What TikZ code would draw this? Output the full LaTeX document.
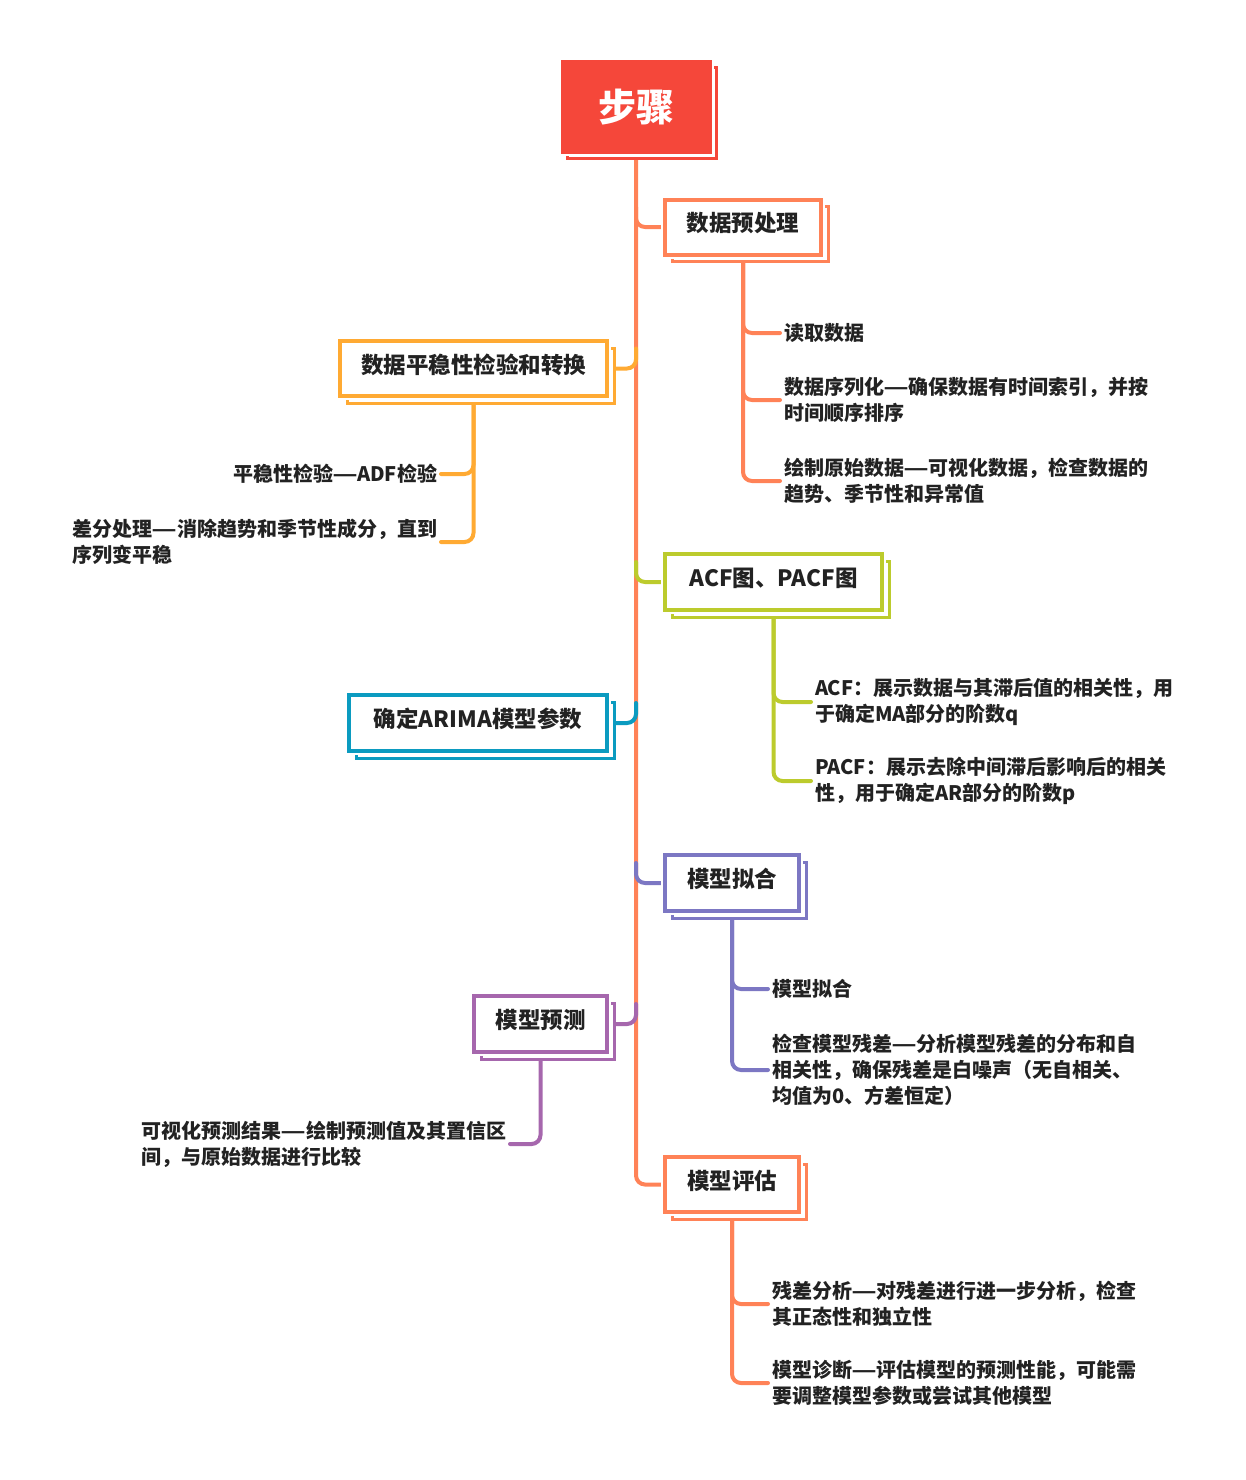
\documentclass[tikz,border=0pt]{standalone}
\usepackage{fontspec}
\setmainfont{Noto Sans CJK SC}
\usepackage{graphicx}
\usetikzlibrary{calc}
\definecolor{cred}{HTML}{F5473A}
\definecolor{ccoral}{HTML}{FF8257}
\definecolor{corange}{HTML}{FFAA33}
\definecolor{clime}{HTML}{BCCB2D}
\definecolor{cteal}{HTML}{0B9BC0}
\definecolor{cslate}{HTML}{7C77C3}
\definecolor{cpurple}{HTML}{A667AD}
\definecolor{ctext}{HTML}{222222}
\newcommand{\dd}{\scalebox{0.7}[1]{——}}
\pgfdeclarelayer{connlayer}
\pgfdeclarelayer{shadlayer}
\pgfsetlayers{connlayer,shadlayer,main}
\begin{document}
\begin{tikzpicture}[x=1pt,y=-1pt,
  boxst/.style={draw=#1, line width=4pt, fill=white, inner sep=0pt, outer sep=0pt,
    preaction={draw=white, line width=8pt}, text=ctext,
    text height=18pt, text depth=9pt,
    font=\fontsize{22.5}{27}\selectfont\bfseries},
  shad/.style={draw=#1, line width=3pt, fill=white},
  conn/.style={draw=#1, line width=4pt, rounded corners=9pt, line cap=round},
  leafR/.style={anchor=west, align=left, inner xsep=4pt, inner ysep=0pt, outer sep=0pt,
    text=ctext, font=\fontsize{20}{26}\selectfont\bfseries},
  leafL/.style={anchor=east, align=left, inner xsep=4pt, inner ysep=0pt, outer sep=0pt,
    text=ctext, font=\fontsize{20}{26}\selectfont\bfseries}]
\useasboundingbox (0,0) rectangle (1246,1480);

% root
\node[draw=cred, fill=cred, line width=2pt, minimum width=149pt, minimum height=91pt,
  inner sep=0pt, outer sep=0pt, preaction={draw=white, line width=6pt},
  text=white, font=\fontsize{38}{44}\selectfont\bfseries] (root) at (636,107) {步骤};

% main boxes
\node[boxst=ccoral, minimum width=156pt, minimum height=55pt] (b1) at (743,227) {数据预处理};
\node[boxst=corange, minimum width=267pt, minimum height=55pt] (b2) at (473.5,368.5) {数据平稳性检验和转换};
\node[boxst=clime, minimum width=217pt, minimum height=56pt] (b3) at (773.5,582) {ACF图、PACF图};
\node[boxst=cteal, minimum width=258pt, minimum height=56pt] (b4) at (478,723) {确定ARIMA模型参数};
\node[boxst=cslate, minimum width=134pt, minimum height=56pt] (b5) at (732,883) {模型拟合};
\node[boxst=cpurple, minimum width=133pt, minimum height=56pt] (b6) at (540.5,1024) {模型预测};
\node[boxst=ccoral, minimum width=134pt, minimum height=55pt] (b7) at (732,1184.5) {模型评估};

% leaves
\node[leafR] (c11) at (780,333) {读取数据};
\node[leafR] (c12) at (780,400) {数据序列化\dd 确保数据有时间索引，并按\\时间顺序排序};
\node[leafR] (c13) at (780,481) {绘制原始数据\dd 可视化数据，检查数据的\\趋势、季节性和异常值};
\node[leafL] (c21) at (441,474) {平稳性检验\dd ADF检验};
\node[leafL] (c22) at (441,542) {差分处理\dd 消除趋势和季节性成分，直到\\序列变平稳};
\node[leafR] (c31) at (811,702) {ACF：展示数据与其滞后值的相关性，用\\于确定MA部分的阶数q};
\node[leafR] (c32) at (811,781) {PACF：展示去除中间滞后影响后的相关\\性，用于确定AR部分的阶数p};
\node[leafR] (c51) at (768,989) {模型拟合};
\node[leafR] (c52) at (768,1070) {检查模型残差\dd 分析模型残差的分布和自\\相关性，确保残差是白噪声（无自相关、\\均值为0、方差恒定）};
\node[leafL] (c61) at (510,1144) {可视化预测结果\dd 绘制预测值及其置信区\\间，与原始数据进行比较};
\node[leafR] (c71) at (768,1304) {残差分析\dd 对残差进行进一步分析，检查\\其正态性和独立性};
\node[leafR] (c72) at (768,1383) {模型诊断\dd 评估模型的预测性能，可能需\\要调整模型参数或尝试其他模型};

% shadows
\begin{pgfonlayer}{shadlayer}
\draw[shad=cred] ([shift={(6,6)}]root.north west) rectangle ([shift={(6,6)}]root.south east);
\foreach \b/\c in {b1/ccoral,b2/corange,b3/clime,b4/cteal,b5/cslate,b6/cpurple,b7/ccoral}{
  \draw[shad=\c] ([shift={(7,7)}]\b.north west) rectangle ([shift={(7,7)}]\b.south east);
}
\end{pgfonlayer}

% connectors
\begin{pgfonlayer}{connlayer}
\draw[conn=ccoral] (root.south) |- (b7.west);
\draw[conn=ccoral] ($(root.south |- b1.west)+(0,-20)$) |- (b1.west);
\draw[conn=corange] ($(root.south |- b2.east)+(0,-20)$) |- (b2.east);
\draw[conn=clime] ($(root.south |- b3.west)+(0,-20)$) |- (b3.west);
\draw[conn=cteal] ($(root.south |- b4.east)+(0,-20)$) |- (b4.east);
\draw[conn=cslate] ($(root.south |- b5.west)+(0,-20)$) |- (b5.west);
\draw[conn=cpurple] ($(root.south |- b6.east)+(0,-20)$) |- (b6.east);

\draw[conn=ccoral] (b1.south) |- (c11.west);
\draw[conn=ccoral] (b1.south) |- (c12.west);
\draw[conn=ccoral] (b1.south) |- (c13.west);
\draw[conn=corange] (b2.south) |- (c21.east);
\draw[conn=corange] (b2.south) |- (c22.east);
\draw[conn=clime] (b3.south) |- (c31.west);
\draw[conn=clime] (b3.south) |- (c32.west);
\draw[conn=cslate] (b5.south) |- (c51.west);
\draw[conn=cslate] (b5.south) |- (c52.west);
\draw[conn=cpurple] (b6.south) |- (c61.east);
\draw[conn=ccoral] (b7.south) |- (c71.west);
\draw[conn=ccoral] (b7.south) |- (c72.west);
\end{pgfonlayer}
\end{tikzpicture}
\end{document}
